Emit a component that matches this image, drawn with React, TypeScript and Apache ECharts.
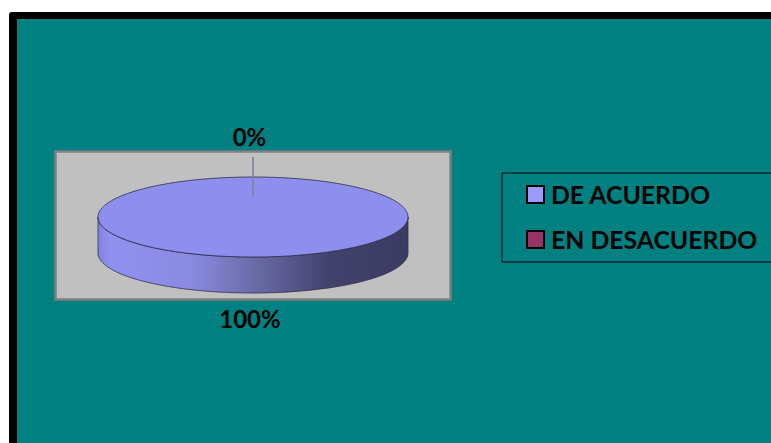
import React, { useEffect, useRef } from "react";
import * as echarts from "echarts";

const categories = ["DE ACUERDO", "EN DESACUERDO"];
const values = [100, 0];
const legendColors = ["#9999ff", "#993366"];

const WIDTH = 771;
const HEIGHT = 443;
const CX = 253;
const CY = 217;
const RX = 155;
const RY = 40;
const DEPTH = 36;

const total = values.reduce((a, b) => a + b, 0);
const FONT = "Lato, Carlito, 'Noto Sans', sans-serif";

// Point on the top ellipse; the angle runs clockwise from twelve o'clock.
const rim = (a: number, dy = 0): number[] => [
  CX + RX * Math.sin(a),
  CY - RY * Math.cos(a) + dy,
];

const sample = (from: number, to: number, dy = 0): number[][] => {
  const steps = Math.max(2, Math.ceil((Math.abs(to - from) / (Math.PI * 2)) * 240));
  const pts: number[][] = [];
  for (let i = 0; i <= steps; i++) pts.push(rim(from + ((to - from) * i) / steps, dy));
  return pts;
};

const sideGradient = new echarts.graphic.LinearGradient(0, 0, 1, 0, [
  { offset: 0, color: "#8383dc" },
  { offset: 0.04, color: "#9090f0" },
  { offset: 0.3, color: "#8a8ae2" },
  { offset: 0.5, color: "#6b6ca8" },
  { offset: 0.75, color: "#41416c" },
  { offset: 1, color: "#3b3b62" },
]);

// One wedge of the flattened pie: front wall, top face, leader line and percentage.
const renderSlice = (_params: unknown, api: any) => {
  const value = api.value(0);
  const before = api.value(1);
  const start = (before / total) * Math.PI * 2;
  const end = ((before + value) / total) * Math.PI * 2;
  const mid = (start + end) / 2;
  const pct = `${Math.round((value / total) * 100)}%`;
  const children: any[] = [];

  if (value > 0) {
    const frontFrom = Math.max(start, Math.PI / 2);
    const frontTo = Math.min(end, (Math.PI * 3) / 2);
    if (frontTo > frontFrom) {
      children.push({
        type: "polygon",
        shape: {
          points: [
            ...sample(frontFrom, frontTo),
            ...sample(frontTo, frontFrom, DEPTH),
          ],
        },
        style: { fill: sideGradient, stroke: "#30304a", lineWidth: 0.8 },
      });
    }
    const full = end - start >= Math.PI * 2 - 1e-6;
    const top = sample(start, end);
    children.push({
      type: "polygon",
      shape: { points: full ? top : [[CX, CY], ...top] },
      style: { fill: "#8e8eee", stroke: "#2c2c48", lineWidth: 0.8 },
    });
  }

  const upper = Math.cos(mid) > 0;
  if (upper) {
    children.push({
      type: "line",
      shape: { x1: CX, y1: 157, x2: CX, y2: 197 },
      style: { stroke: "#7f7f9a", lineWidth: 1.5 },
    });
  }
  children.push({
    type: "text",
    x: upper ? CX - 3.5 : CX - 3,
    y: upper ? 136.5 : 318.5,
    style: {
      text: pct,
      fill: "#000000",
      font: `700 24px ${FONT}`,
      align: "center",
      verticalAlign: "middle",
    },
  });
  return { type: "group", children };
};

export default function App() {
  const ref = useRef<HTMLDivElement>(null);

  useEffect(() => {
    const chart = echarts.init(ref.current!, null, { renderer: "svg" });
    let running = 0;
    chart.setOption({
      animation: false,
      backgroundColor: "#ffffff",
      graphic: [
        {
          type: "rect",
          z: 0,
          shape: { x: 9, y: 12, width: 800, height: 470, r: 3 },
          style: { fill: "#000000" },
        },
        {
          type: "rect",
          z: 0,
          shape: { x: 17, y: 19, width: 790, height: 460 },
          style: { fill: "#008080" },
        },
        {
          type: "rect",
          z: 0,
          shape: { x: 55.5, y: 151.5, width: 395, height: 148 },
          style: { fill: "#c0c0c0", stroke: "#808080", lineWidth: 2.5 },
        },
      ],
      legend: {
        left: 502,
        top: 173,
        orient: "vertical",
        padding: [9, 30, 10, 24],
        itemWidth: 17,
        itemHeight: 17,
        itemGap: 20,
        borderColor: "#000000",
        borderWidth: 1,
        icon: "rect",
        data: categories.map((name, i) => ({
          name,
          itemStyle: {
            color: legendColors[i],
            borderColor: "#000000",
            borderWidth: 2,
          },
        })),
        textStyle: {
          color: "#000000",
          fontFamily: FONT,
          fontWeight: 700,
          fontSize: 24.8,
          padding: [0, 0, 0, 2],
        },
      },
      series: categories.map((name, i) => {
        const before = running;
        running += values[i];
        return {
          type: "custom",
          name,
          coordinateSystem: "none",
          itemStyle: { color: legendColors[i] },
          data: [[values[i], before]],
          renderItem: renderSlice,
        };
      }),
    });
    return () => chart.dispose();
  }, []);

  return (
    <div
      ref={ref}
      style={{ position: "fixed", left: 0, top: 0, width: WIDTH, height: HEIGHT }}
    />
  );
}
